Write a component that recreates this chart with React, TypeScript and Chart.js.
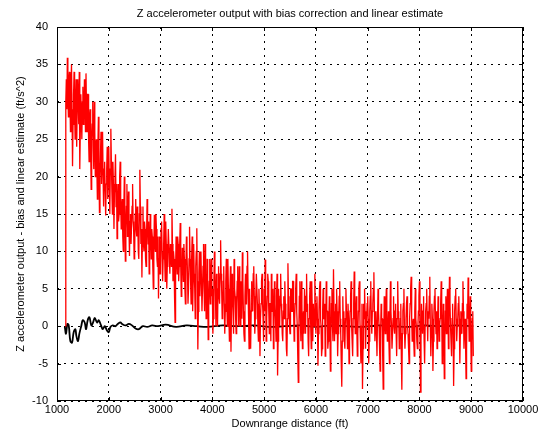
import React, { useEffect, useRef } from "react";
import { Chart, registerables } from "chart.js";

Chart.register(...registerables);

const TITLE = "Z accelerometer output with bias correction and linear estimate";
const X_LABEL = "Downrange distance (ft)";
const Y_LABEL = "Z accelerometer output - bias and linear estimate (ft/s^2)";

const X_MIN = 1000;
const X_MAX = 10000;
const X_STEP_TICK = 1000;
const Y_MIN = -10;
const Y_MAX = 40;
const Y_STEP_TICK = 5;

// red samples: first sample distance and spacing (ft)
const RED_START = 1160;
const RED_SPACING = 10;
const redValues = [
  0, 30, 33, 29, 35.9, 31, 28, 33, 34, 30, 26, 32, 35, 29, 21.4, 27, 31, 34, 29, 25,
  30, 33, 24, 29, 33, 30, 27, 34, 21, 26, 31, 28, 25, 30, 32, 27, 28, 33, 30, 26,
  33.8, 29, 26, 31, 31, 25, 22, 28, 29, 24, 18.3, 25, 27, 30, 24, 21, 30, 26, 20, 24,
  25, 21, 17, 24, 28, 22, 15.2, 20, 23, 26, 19, 22, 26, 20, 16, 21, 22, 18, 14.8, 19,
  21, 24, 17, 20, 24, 19, 15, 21, 26.4, 22, 18, 15, 22, 19, 13, 18, 20, 23, 16, 19,
  11.7, 16, 19, 14, 15, 20, 22, 17, 13, 16, 17, 12, 10, 15, 20, 16, 8.7, 13, 16, 19,
  12, 15, 18, 13, 9.4, 14, 15, 11, 11, 16, 19, 14, 13, 9, 10, 15, 17, 13, 12, 16,
  14, 10, 9, 15, 20.9, 16, 11, 13, 6.5, 12, 16, 11, 10, 14, 13, 9, 8, 12, 17, 13,
  11, 14, 7, 10, 15, 12, 9, 13, 12, 8, 5, 10, 14.9, 11, 10, 15, 13, 9, 8, 12,
  3.7, 9, 12, 7, 8, 13, 14, 10, 6, 9, 11, 15, 9, 6, 14, 11, 5, 8, 10, 13,
  13, 9, 7, 11, 10, 8, 15.7, 11, 6, 10, 9, 4, 0.5, 7, 12, 9, 7, 12, 11, 6,
  8, 11, 13.8, 8, 4, 7, 10.5, 8, 6, 11, 9, 5, 3, 8, 12, 10, 7, 3, 5, 9,
  13.3, 9, 6, 3, 9, 12, 2, 6, 11, 7, 5, 1, 8, 10, 13.1, 6, -3.1, 2, 7, 10,
  4, 7, 10, 6, 2, 5, 8, 11, 5, 2, 11, 7, 1, 4, 9, 6, -1.8, 3, 6, 9,
  3, 6, 9, 4, 5, -1, 1, 6, 10, 7, 4, 0, 7, 3, 0, 5, 8, 4, 3, 7,
  11.5, 7, 5, 1, 2, 6, 8, 3, -1, 2, 6, 9, 3, 0, 9, 5, 1, -2, 5, 8,
  -3.4, 2, 7, 4, 2, -1, 9, 5, 4, 1, -1, 3, 6, 8, 3, 0, 8, 4, 0, 6,
  5, 1, 9.9, 6, 2, -1, -2, 4, 7, 3, 3, 8, 10, 5, 1, -3, 5, 2, -3, 2,
  6, 3, 2, 7, 8, 4, -1, 1, 4, 7, 7, 3, 0, -2, 5, 2, -4, 1, 3, 6,
  7, 3, 1, -2, 5, 2, 8.9, 4, -2, 1, 4, 7, 6, 2, -1, 3, 3, -2, 7, 4,
  2, 5, -3, 0, 6, 3, 1, -2, 4, 7, -6.6, -2, 5, 1, 0, 4, 7, 3, 2, -1,
  -2, 2, 4, 1, 6, 3, 1, -3, -4, 1, 8.4, 4, 3, 0, -1, 5, 5, 2, 2, 6,
  6, 2, -2, 1, 3, 5, 7, 2, 0, -4, -7.5, -1, 4, 6, 1, -2, 6, 3, -3, 1,
  2, -1, 5, 3, -1, 4, 7, 2, 3, -2, -4, 1, 4, 6, 0, -3, 6, 2, -2, 3,
  3, 0, 7, 2, -1, 3, 4, 1, -5.3, -1, 2, 5, 6, 1, 0, -4, -3, 2, 5, 1,
  1, 3, -4, -1, 6, 2, 2, -3, -2, 1, 4, 0, -6, -1, 3, 5, 0, -2, 7.6, 2,
  -2, 1, 3, -1, 5, 2, -4, -1, 1, 4, 6, 1, -1, -5, -8.1, -2, 4, 0, 2, -2,
  -3, 1, 5, 2, 0, -3, 3, 1, -5, -1, 2, 4, 6, 0, -2, -4, 1, 3, 7.3, 2,
  -1, 2, 4, 0, -4, -1, 2, 5, 6, 1, -2, -5, 0, 3, -8.4, -3, 3, 1, 5, 2,
  -3, 0, 1, 3, 4, 1, -5, -2, 2, 4, 6, 1, -1, 2, 3, 5, 7.2, 2, -2, 0,
  2, -1, -4, 1, 5, 2, 0, -3, -6, -1, 3, 1, 1, -4, -8.4, -2, 4, 1, -1, 2,
  5, 1, -2, 0, 2, -2, -5, 1, 6, 2, 0, -3, -3, 1, 4, 0, -1, 2, 3, -1,
  -4, 1, 6, 2, 1, -3, -2, 1, 3, -4, -8.5, -1, 2, 3, 5, 0, -3, -1, 1, 3,
  4, 0, -1, -3, -5, 1, 3, 5, 6.6, 1, -2, 0, 1, -2, -4, 2, 5, 1, 0, -2,
  -3, 0, 2, 4, 6, -1, -8.8, -2, 3, 1, -1, 2, 4, -2, -5, 0, 2, 3, 5, 1,
  -2, 2, 1, 4, 6.6, 0, -4, -1, 3, 1, -6, -2, 2, 4, 5, 1, -1, 2, -3, 0,
  4, 1, -2, 0, 1, 3, 6, 2, -5, -1, 3, 0, -7, -2, 2, 4, -1, 1, 5, 2,
  -3, 2, 6.6, 3, 0, -2, -4, 1, 3, 0, -8, -3, 2, 4, 5, 1, -2, 0, 1, 3,
  4, 1, -5, -1, 2, 0, -1, 3, 6, 2, -3, 0, 1, -2, -7, -3, 3, 1, 6.5, 2,
  -2, 1, 4, 0, -6, -2, 1, 2, -4,
];

const blackX = [
  1150, 1174, 1200, 1226, 1258, 1290, 1322, 1355, 1374, 1406, 1432, 1471, 1497, 1535,
  1561, 1593, 1626, 1664, 1697, 1729, 1774, 1806, 1851, 1884, 1922, 1968, 2000, 2032,
  2077, 2129, 2174, 2226, 2258, 2322, 2387, 2451, 2516, 2580, 2658, 2742, 2838, 2950,
  3100, 3300, 3500, 3700, 3900, 4200, 4500, 4800, 5100, 5400, 5700, 6000, 6300, 6600,
  6900, 7200, 7500, 7800, 8100, 8400, 8700, 9040,
];
const blackY = [
  -0.1, -1.0, 0.3, 0.1, -2.0, -2.2, -0.8, -0.4, -1.3, -2.0, -1.0, 0.1, 0.8, 0.5,
  -0.4, 0.8, 1.2, 0.1, 0.5, 1.1, 0.5, 0.8, 0.1, -0.4, 0.0, -0.6, -0.8, -0.1,
  0.1, 0.0, 0.3, 0.5, 0.3, 0.1, 0.3, 0.1, -0.3, -0.4, 0.0, -0.1, 0.1, 0.0,
  0.2, -0.1, 0.1, 0.0, -0.1, 0.1, 0.0, 0.1, -0.1, 0.0, 0.1, -0.1, 0.1, 0.0,
  -0.1, 0.1, 0.0, -0.1, 0.1, 0.0, 0.1, 0.0,
];

const FONT = "'Liberation Sans', Arial, Helvetica, sans-serif";

const framePlugin = {
  id: "frame",
  afterDraw(chart: any) {
    const { ctx, chartArea: a, scales } = chart;
    ctx.save();
    ctx.strokeStyle = "#000";
    ctx.lineWidth = 1;
    ctx.setLineDash([]);
    ctx.strokeRect(a.left + 0.5, a.top + 0.5, a.right - a.left - 1, a.bottom - a.top - 1);
    const tl = 4;
    ctx.beginPath();
    scales.x.ticks.forEach((t: any) => {
      const px = Math.round(scales.x.getPixelForValue(t.value)) + 0.5;
      ctx.moveTo(px, a.bottom);
      ctx.lineTo(px, a.bottom - tl);
      ctx.moveTo(px, a.top);
      ctx.lineTo(px, a.top + tl);
    });
    scales.y.ticks.forEach((t: any) => {
      const py = Math.round(scales.y.getPixelForValue(t.value)) + 0.5;
      ctx.moveTo(a.left, py);
      ctx.lineTo(a.left + tl, py);
      ctx.moveTo(a.right, py);
      ctx.lineTo(a.right - tl, py);
    });
    ctx.stroke();
    ctx.fillStyle = "#000";
    ctx.font = "11px " + FONT;
    ctx.textAlign = "center";
    ctx.textBaseline = "middle";
    ctx.fillText(TITLE, (a.left + a.right) / 2, 14);
    ctx.restore();
  },
};

export default function App() {
  const ref = useRef<HTMLCanvasElement | null>(null);
  useEffect(() => {
    if (!ref.current) return;
    const redData = redValues.map((v, i) => ({ x: RED_START + i * RED_SPACING, y: v }));
    const blackData = blackX.map((x, i) => ({ x, y: blackY[i] }));
    const chart = new Chart(ref.current, {
      type: "line",
      data: {
        datasets: [
          {
            data: redData,
            borderColor: "#ff0000",
            borderWidth: 1.3,
            pointRadius: 0,
            tension: 0,
          },
          {
            data: blackData,
            borderColor: "#000000",
            borderWidth: 1.8,
            pointRadius: 0,
            tension: 0.4,
          },
        ],
      },
      options: {
        responsive: false,
        animation: false,
        events: [],
        layout: { padding: { top: 27, right: 31, left: 0, bottom: 0 } },
        plugins: { legend: { display: false }, tooltip: { enabled: false }, title: { display: false } },
        scales: {
          x: {
            type: "linear",
            min: X_MIN,
            max: X_MAX,
            afterFit: (s: any) => { s.height = 35; },
            ticks: {
              stepSize: X_STEP_TICK, color: "#000", font: { family: FONT, size: 11 }, padding: 2, maxRotation: 0,
              callback: (v: any) => String(v),
            },
            grid: { color: "#000", lineWidth: 1, drawTicks: false },
            border: { display: false, dash: [2, 5] },
            title: { display: true, text: X_LABEL, color: "#000", font: { family: FONT, size: 11 }, padding: { top: 0, bottom: 5 } },
          },
          y: {
            type: "linear",
            min: Y_MIN,
            max: Y_MAX,
            afterFit: (s: any) => { s.width = 57; },
            ticks: {
              stepSize: Y_STEP_TICK, color: "#000", font: { family: FONT, size: 11 }, padding: 9,
              callback: (v: any) => String(v),
            },
            grid: { color: "#000", lineWidth: 1, drawTicks: false },
            border: { display: false, dash: [2, 5] },
            title: { display: true, text: Y_LABEL, color: "#000", font: { family: FONT, size: 11 }, padding: { top: 14, bottom: 0 } },
          },
        },
      },
      plugins: [framePlugin],
    });
    return () => chart.destroy();
  }, []);
  return (
    <div style={{ position: "fixed", left: 0, top: 0, width: 554, height: 436, background: "#fff" }}>
      <canvas ref={ref} width={554} height={436} />
    </div>
  );
}
